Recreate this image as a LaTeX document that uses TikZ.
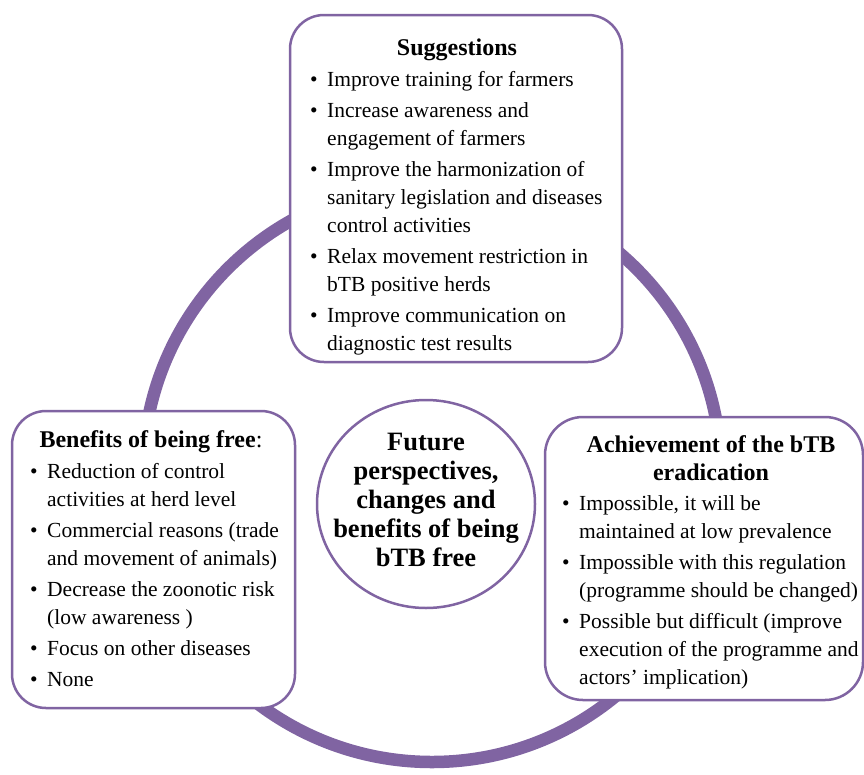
\documentclass[tikz,border=0pt]{standalone}
\usepackage{fontspec}
\setmainfont{Liberation Serif}
\usepackage{tikz}
\usetikzlibrary{shapes.geometric, positioning}
\definecolor{ring-purple}{HTML}{8064A2}
\newcommand{\bulletmark}{\makebox[17pt][l]{\textbullet}}

\begin{document}
\begin{tikzpicture}[x=1pt, y=-1pt,
    box/.style={rectangle, draw=ring-purple, line width=2.5pt, rounded corners=34pt, fill=white, inner sep=0pt},
    titletext/.style={anchor=base, inner sep=0pt, font=\fontsize{24}{28}\selectfont\bfseries},
    listtext/.style={anchor=base west, inner sep=0pt, font=\fontsize{21.5}{28}\selectfont},
    coretext/.style={anchor=base, inner sep=0pt, font=\fontsize{26.5}{29}\selectfont\bfseries},
    ring/.style={draw=ring-purple, line width=12.5pt}
]
\useasboundingbox (0,0) rectangle (864,774);

% Outer ring
\draw[ring] (432,473) circle[radius=289pt];

% Suggestions
\node[box, minimum width=332pt, minimum height=347pt] (sug) at (456,188.5) {};
\node[titletext] (sugtitle) at (457,55) {Suggestions};
\node[listtext] (suglist) at (310,86) {\begin{tabular}[t]{@{}l@{}l@{}}
\bulletmark & Improve training for farmers \\[3pt]
\bulletmark & Increase awareness and \\
 & engagement of farmers \\[3pt]
\bulletmark & Improve the harmonization of \\
 & sanitary legislation and diseases \\
 & control activities \\[3pt]
\bulletmark & Relax movement restriction in \\
 & bTB positive herds \\[3pt]
\bulletmark & Improve communication on \\
 & diagnostic test results
\end{tabular}};

% Benefits of being free
\node[box, minimum width=283pt, minimum height=297pt] (ben) at (153.5,559.5) {};
\node[titletext] (bentitle) at (151,447) {Benefits of being free{\mdseries:}};
\node[listtext] (benlist) at (30,478) {\begin{tabular}[t]{@{}l@{}l@{}}
\bulletmark & Reduction of control \\
 & activities at herd level \\[3pt]
\bulletmark & Commercial reasons (trade \\
 & and movement of animals) \\[3pt]
\bulletmark & Decrease the zoonotic risk \\
 & (low awareness ) \\[3pt]
\bulletmark & Focus on other diseases \\[3pt]
\bulletmark & None
\end{tabular}};

% Achievement of the bTB eradication
\node[box, minimum width=318pt, minimum height=283pt, rounded corners=38pt] (ach) at (704,558.5) {};
\node[titletext] (achtitle) at (711,452) {\begin{tabular}[t]{@{}c@{}}
Achievement of the bTB \\ eradication
\end{tabular}};
\node[listtext] (achlist) at (562,510) {\begin{tabular}[t]{@{}l@{}l@{}}
\bulletmark & Impossible, it will be \\
 & maintained at low prevalence \\[3pt]
\bulletmark & Impossible with this regulation \\
 & (programme should be changed) \\[3pt]
\bulletmark & Possible but difficult (improve \\
 & execution of the programme and \\
 & actors' implication)
\end{tabular}};

% Core circle
\node[ellipse, draw=ring-purple, line width=2.5pt, fill=white, minimum width=218pt, minimum height=208pt, inner sep=0pt] (core) at (426,504) {};
\node[coretext] (corelabel) at (426,450) {\begin{tabular}[t]{@{}c@{}}
Future \\ perspectives, \\ changes and \\ benefits of being \\ bTB free
\end{tabular}};

\end{tikzpicture}
\end{document}
